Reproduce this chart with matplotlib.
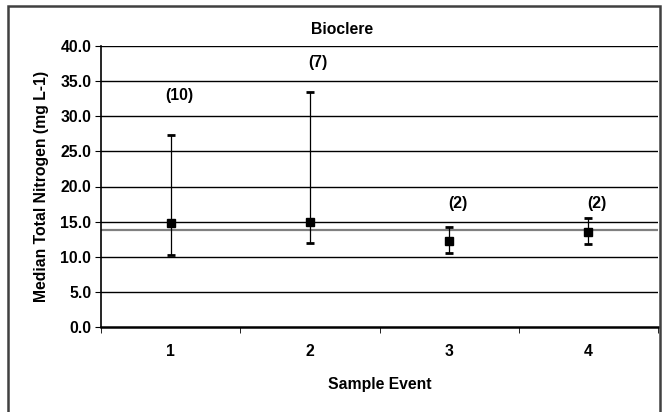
import numpy as np
import matplotlib.pyplot as plt
from matplotlib.patches import Rectangle

plt.rcParams['font.family'] = ['Liberation Sans', 'DejaVu Sans']

# data
events = [1, 2, 3, 4]
medians = [14.85, 15.0, 12.3, 13.55]
upper = [27.3, 33.5, 14.2, 15.45]
lower = [10.25, 12.0, 10.5, 11.75]
counts = ['(10)', '(7)', '(2)', '(2)']
label_y = [33.0, 37.6, 17.6, 17.6]
ref_line = 13.85

fs = 11.3

fig = plt.figure(figsize=(6.64, 4.12), dpi=100)
ax = fig.add_axes([101/664, 1 - 327/412, 557/664, 281/412])

# outer chart frame
fig.patches.append(Rectangle((8/664, -0.05), 652/664, 1.05 - 6/412, transform=fig.transFigure,
                             fill=False, edgecolor='#404040', linewidth=1.8, clip_on=False))

for y in np.arange(5, 45, 5):
    ax.axhline(y, color='black', linewidth=1.0, zorder=1)
ax.axhline(ref_line, color='#808080', linewidth=1.6, zorder=1)

med = np.array(medians)
yerr = [med - np.array(lower), np.array(upper) - med]
ax.errorbar(events, medians, yerr=yerr, fmt='s', color='black', markersize=6,
            ecolor='black', elinewidth=0.9, capsize=2.8, capthick=2, zorder=3)

for x, y, t in zip(events, label_y, counts):
    ax.annotate(t, (x, y), xytext=(6, 0), textcoords='offset points', ha='center', va='center',
                fontsize=fs, fontweight='bold')

ax.set_xlim(0.5, 4.5)
ax.set_ylim(0, 40)
ax.set_yticks(np.arange(0, 45, 5))
ax.set_yticklabels(['%.1f' % v for v in np.arange(0, 45, 5)], fontsize=fs, fontweight='bold')
ax.set_xticks(events)
ax.set_xticklabels([str(e) for e in events], fontsize=fs, fontweight='bold')
ax.set_xticks([0.5, 1.5, 2.5, 3.5, 4.5], minor=True)
ax.tick_params(axis='x', which='major', length=0, pad=12)
ax.tick_params(axis='x', which='minor', length=4, direction='out')
ax.tick_params(axis='y', length=4, direction='out', pad=3)

for s in ['top', 'right']:
    ax.spines[s].set_visible(False)
ax.spines['left'].set_linewidth(1.2)
ax.spines['bottom'].set_linewidth(1.8)

ax.set_xlabel('Sample Event', fontsize=fs, fontweight='bold', labelpad=13)
ax.set_ylabel('Median Total Nitrogen (mg L-1)', fontsize=fs, fontweight='bold', labelpad=8)
fig.text(342/664, 1 - 30/412, 'Bioclere', ha='center', va='center', fontsize=fs, fontweight='bold')

fig.savefig('out.png', dpi=100)
